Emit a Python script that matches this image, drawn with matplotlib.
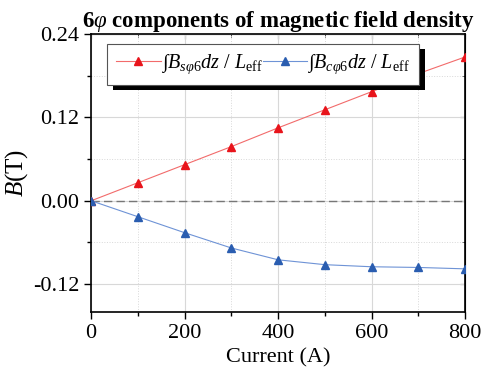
import matplotlib
matplotlib.use('Agg')
import matplotlib.pyplot as plt
from matplotlib.ticker import MultipleLocator
from matplotlib.patches import Rectangle

plt.rcParams['font.family'] = ['Liberation Serif', 'DejaVu Serif']
plt.rcParams['mathtext.fontset'] = 'custom'
plt.rcParams['mathtext.rm'] = 'Liberation Serif'
plt.rcParams['mathtext.it'] = 'Liberation Serif:italic'
plt.rcParams['mathtext.bf'] = 'Liberation Serif:bold'

# data
current = [0, 100, 200, 300, 400, 500, 600, 700, 800]
b_sin = [0.0, 0.026, 0.052, 0.078, 0.105, 0.131, 0.157, 0.183, 0.207]
b_cos = [0.0, -0.023, -0.046, -0.068, -0.085, -0.092, -0.095, -0.096, -0.098]

fig = plt.figure(figsize=(4.85, 3.74), dpi=100)
ax = fig.add_axes([0.188, 0.166, 0.771, 0.743])

ax.axhline(0, color='#777777', linestyle=(0, (6, 3)), linewidth=1.0, zorder=1)
ax.plot(current, b_sin, color='#f26b6b', linewidth=0.8, marker='^', markersize=6,
        markerfacecolor='#e8141b', markeredgecolor='#e8141b',
        label=r'$\int B_{s\varphi 6}dz$ / $L_{\rm eff}$', zorder=3)
ax.plot(current, b_cos, color='#6e93d6', linewidth=0.8, marker='^', markersize=6,
        markerfacecolor='#2a5db0', markeredgecolor='#2a5db0',
        label=r'$\int B_{c\varphi 6}dz$ / $L_{\rm eff}$', zorder=3)

ax.set_xlim(0, 800)
ax.set_ylim(-0.16, 0.24)
ax.xaxis.set_major_locator(MultipleLocator(200))
ax.xaxis.set_minor_locator(MultipleLocator(100))
ax.yaxis.set_minor_locator(MultipleLocator(0.06))
ax.set_yticks([-0.12, 0.0, 0.12, 0.24])
ax.set_yticklabels(['-0.12', '0.00', '0.12', '0.24'])

ax.grid(True, which='major', color='#d8d8d8', linewidth=0.8)
ax.grid(True, which='minor', color='#d8d8d8', linewidth=0.7, linestyle=':')
ax.set_axisbelow(True)

ax.tick_params(which='both', direction='out', top=False, right=False, labelsize=16, width=1)
ax.tick_params(which='major', length=5)
ax.tick_params(which='minor', length=3)
ax2 = ax.secondary_xaxis('top')
ax2.xaxis.set_major_locator(MultipleLocator(200))
ax2.xaxis.set_minor_locator(MultipleLocator(100))
ax2.tick_params(which='both', direction='in', labeltop=False)
ax3 = ax.secondary_yaxis('right')
ax3.yaxis.set_major_locator(MultipleLocator(0.12))
ax3.yaxis.set_minor_locator(MultipleLocator(0.06))
ax3.tick_params(which='both', direction='in', labelright=False)
for s in ax.spines.values():
    s.set_linewidth(1.2)

ax.set_xlabel('Current (A)', fontsize=16, labelpad=4)
ax.set_ylabel(r'$B$(T)', fontsize=18, labelpad=2)
ax.set_title(r'6$\varphi$ components of magnetic field density', fontsize=16.5,
             fontweight='bold', pad=5)

leg = ax.legend(loc='upper left', ncol=2, bbox_to_anchor=(0.043, 0.965), fontsize=14.5,
                fancybox=False, framealpha=1, edgecolor='#555555', handlelength=2.2,
                handletextpad=0.0, columnspacing=0.0, borderpad=0.45, borderaxespad=0)
leg.get_frame().set_linewidth(0.8)
leg.set_zorder(10)

# black drop shadow behind legend
fig.canvas.draw()
bb = leg.get_frame().get_window_extent()
px = ax.transAxes.inverted()
(x0, y0), (x1, y1) = px.transform([[bb.x0 + 6, bb.y0 - 5], [bb.x1 + 6, bb.y1 - 5]])
ax.add_patch(Rectangle((x0, y0), x1 - x0, y1 - y0, transform=ax.transAxes,
                       facecolor='black', edgecolor='none', zorder=9, clip_on=False))

fig.savefig('out.png', dpi=100)
